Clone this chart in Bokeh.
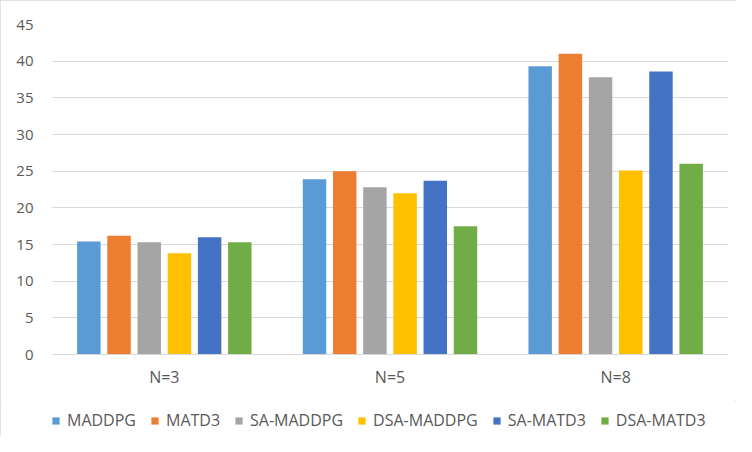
from bokeh.plotting import figure
from bokeh.layouts import column
from bokeh.models import ColumnDataSource, FactorRange, FixedTicker, Legend, LegendItem
from bokeh.transform import dodge
from bokeh.embed import file_html
from bokeh.resources import INLINE

categories = ["N=3", "N=5", "N=8"]
series_names = ["MADDPG", "MATD3", "SA-MADDPG", "DSA-MADDPG", "SA-MATD3", "DSA-MATD3"]
maddpg = [15.4, 23.9, 39.3]
matd3 = [16.2, 25.0, 41.0]
sa_maddpg = [15.3, 22.8, 37.8]
dsa_maddpg = [13.8, 22.0, 25.1]
sa_matd3 = [16.0, 23.7, 38.6]
dsa_matd3 = [15.3, 17.5, 26.0]
y_ticks = [0, 5, 10, 15, 20, 25, 30, 35, 40, 45]

series_values = [maddpg, matd3, sa_maddpg, dsa_maddpg, sa_matd3, dsa_matd3]
colors = ["#5B9BD5", "#ED7D31", "#A5A5A5", "#FFC000", "#4472C4", "#70AD47"]

FONT = "Open Sans"
TEXT_COLOR = "#595959"

p = figure(
    x_range=FactorRange(*categories, range_padding=0),
    y_range=(0, 45),
    width=736, height=400,
    output_backend="svg", toolbar_location=None,
    min_border_left=51, min_border_right=8, min_border_top=24, min_border_bottom=46,
)
p.outline_line_color = None
p.background_fill_color = "white"
p.border_fill_color = "white"

src = ColumnDataSource(dict(cat=categories, **{f"s{i}": v for i, v in enumerate(series_values)}))

pitch = 0.1338
bar_w = 0.104
for i, col in enumerate(colors):
    p.vbar(x=dodge("cat", (i - 2.5) * pitch, range=p.x_range), top=f"s{i}",
           width=bar_w, source=src, fill_color=col, line_color=None)

p.yaxis.ticker = FixedTicker(ticks=y_ticks)
p.ygrid.ticker = FixedTicker(ticks=y_ticks)
p.ygrid.grid_line_color = "#d9d9d9"
p.ygrid.grid_line_width = 1
p.xgrid.grid_line_color = None

for ax in (p.xaxis, p.yaxis):
    ax.axis_line_color = None
    ax.major_tick_line_color = None
    ax.minor_tick_line_color = None
    ax.major_tick_out = 0
    ax.major_tick_in = 0
    ax.major_label_text_color = TEXT_COLOR
    ax.major_label_text_font = FONT

p.yaxis.major_label_text_font_size = "15px"
p.yaxis.major_label_standoff = 18
p.xaxis.major_label_text_font_size = "16px"
p.xaxis.major_label_standoff = 11
p.xaxis.axis_line_color = "#d9d9d9"

# legend strip below the plot: hidden copies of the series, used only for the legend
lp = figure(width=736, height=36,
            x_range=FactorRange(*categories, range_padding=0), y_range=(0, 45),
            x_axis_location=None, y_axis_location=None,
            output_backend="svg", toolbar_location=None, min_border=0)
lp.outline_line_color = None
lp.xgrid.grid_line_color = None
lp.ygrid.grid_line_color = None
lp.background_fill_color = "white"
lp.border_fill_color = "white"

items = []
for i, (name, col) in enumerate(zip(series_names, colors)):
    r = lp.vbar(x=dodge("cat", (i - 2.5) * pitch, range=lp.x_range), top=f"s{i}",
                width=bar_w, source=src, fill_color=col, line_color=None)
    r.visible = False
    items.append(LegendItem(label=name, renderers=[r]))

legend = Legend(items=items, orientation="horizontal", location=(0, 5))
legend.click_policy = "none"
legend.inactive_fill_alpha = 0
legend.label_text_font = FONT
legend.label_text_font_size = "16px"
legend.label_text_color = TEXT_COLOR
legend.glyph_width = 9
legend.glyph_height = 9
legend.label_standoff = 7
legend.spacing = 14
legend.padding = 0
legend.margin = 0
legend.label_height = 20
legend.border_line_color = None
legend.background_fill_alpha = 0
lp.add_layout(legend, "center")

layout = column(p, lp, spacing=0,
                styles={"outline": "1px solid #d9d9d9", "outline-offset": "-1px"})

open("out.html", "w").write(file_html(layout, INLINE))
